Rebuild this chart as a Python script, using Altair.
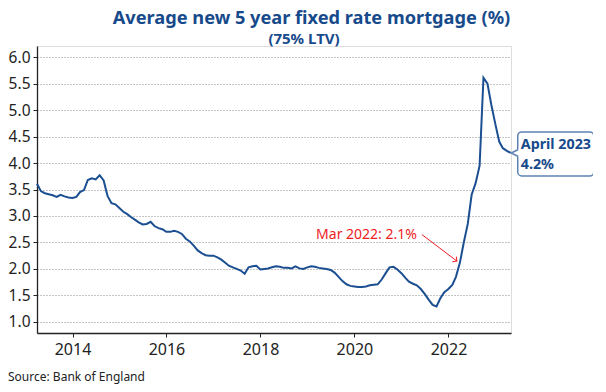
import altair as alt
import pandas as pd

# ---- data (monthly, end of month) ----
START = "2013-03-31"
END = "2023-04-30"
rate = [
    # 2013 Mar-Dec
    3.61, 3.47, 3.43, 3.41, 3.39, 3.36, 3.40, 3.37, 3.35, 3.34,
    # 2014
    3.36, 3.45, 3.49, 3.68, 3.71, 3.69, 3.77, 3.67, 3.38, 3.24, 3.22, 3.15,
    # 2015
    3.08, 3.04, 2.98, 2.93, 2.88, 2.84, 2.85, 2.89, 2.81, 2.77, 2.75, 2.70,
    # 2016
    2.70, 2.72, 2.70, 2.66, 2.57, 2.52, 2.44, 2.35, 2.30, 2.26, 2.25, 2.25,
    # 2017
    2.22, 2.18, 2.12, 2.06, 2.03, 2.00, 1.97, 1.91, 2.03, 2.05, 2.06, 1.99,
    # 2018
    2.00, 2.01, 2.03, 2.05, 2.04, 2.02, 2.02, 2.01, 2.05, 2.01, 2.00, 2.03,
    # 2019
    2.05, 2.04, 2.02, 2.01, 2.00, 1.98, 1.93, 1.85, 1.77, 1.71, 1.68, 1.67,
    # 2020
    1.66, 1.66, 1.67, 1.69, 1.70, 1.71, 1.80, 1.92, 2.03, 2.04, 1.99, 1.92,
    # 2021
    1.83, 1.76, 1.72, 1.69, 1.62, 1.53, 1.42, 1.32, 1.29, 1.45, 1.56, 1.62,
    # 2022
    1.70, 1.85, 2.12, 2.50, 2.85, 3.40, 3.62, 3.95, 5.61, 5.50, 5.10, 4.74,
    # 2023 Jan-Apr
    4.40, 4.28, 4.23, 4.19,
]
dates = pd.date_range(START, END, freq="ME")
df = pd.DataFrame({"date": dates.strftime("%Y-%m-%d"), "rate": rate})

year_ticks = [2014, 2016, 2018, 2020, 2022]
y_ticks = [1.0, 1.5, 2.0, 2.5, 3.0, 3.5, 4.0, 4.5, 5.0, 5.5, 6.0]

ann_date = ["2022-03-31"]
ann_rate = [2.12]
ann_text = ["Mar 2022: 2.1%"]
call_date = ["2023-04-30"]
call_rate = [4.19]
call_text = ["April 2023\n4.2%"]

TITLE = "Average new 5 year fixed rate mortgage (%)"
SUBTITLE = "(75% LTV)"
SOURCE = "Source: Bank of England"

BLUE = "#1b4f91"
TBLUE = "#174a8b"
RED = "#ee1c25"
FONT = "Noto Sans"

ann = pd.DataFrame({"date": ann_date, "rate": ann_rate, "text": ann_text})
call = pd.DataFrame({"date": call_date, "rate": call_rate, "text": call_text})

xscale = alt.Scale(type="utc", domain=[alt.DateTime(year=2013, month=3, date=31, utc=True),
                                       alt.DateTime(year=2023, month=5, date=2, utc=True)])
yscale = alt.Scale(domain=[0.79, 6.21], nice=False, zero=False)

X = alt.X("date:T", scale=xscale, title=None,
          axis=alt.Axis(values=[alt.DateTime(year=y, month=1, date=1, utc=True) for y in year_ticks],
                        format="%Y", formatType="utc", grid=False,
                        labelFont=FONT, labelFontSize=16, labelColor="#222",
                        domainColor="#222", domainWidth=1.3, tickColor="#222",
                        tickSize=4, labelPadding=4, labelFlush=False,
                        labelOverlap=False))
Y = alt.Y("rate:Q", scale=yscale, title=None,
          axis=alt.Axis(values=y_ticks, format=".1f", grid=True, gridDash=[1, 2],
                        gridColor="#8a8a8a", gridWidth=1,
                        labelFont=FONT, labelFontSize=15.5, labelColor="#222",
                        domainColor="#222", domainWidth=1.3, tickColor="#222",
                        tickSize=4, labelPadding=3, labelOverlap=False,
                        labelFlush=False, tickCount=11))
X2 = alt.X2("date:T")
Y2 = alt.Y2("rate:Q")

line = alt.Chart(df).mark_line(color=BLUE, strokeWidth=2).encode(x=X, y=Y)

arrow = alt.Chart(ann).mark_rule(color=RED, strokeWidth=1, xOffset=-38, x2Offset=-3,
                                 yOffset=-28, y2Offset=-1.5).encode(
    x=X, x2=X2, y=Y, y2=Y2)
head = alt.Chart(ann).mark_point(shape="M -1 1 L 0 0 L 1 1", filled=False, color=RED,
                                 strokeWidth=1, size=40, angle=127, xOffset=-3,
                                 yOffset=-1.5, opacity=1).encode(x=X, y=Y)
ann_label = alt.Chart(ann).mark_text(align="right", baseline="middle", dx=-43, dy=-28,
                                     color=RED, font=FONT, fontSize=14).encode(
    x=X, y=Y, text="text:N")

box = alt.Chart(call).mark_rect(cornerRadius=4, fill="white", stroke="#5f82b4",
                                strokeWidth=1.5, xOffset=7, x2Offset=83,
                                yOffset=-21, y2Offset=23).encode(
    x=X, x2=X2, y=Y, y2=Y2)
gap = alt.Chart(call).mark_rule(color="white", strokeWidth=3, xOffset=7, x2Offset=7,
                                yOffset=-4, y2Offset=4).encode(
    x=X, x2=X2, y=Y, y2=Y2)
notch = alt.Chart(call).mark_point(shape="M 1 -1 L -1 0 L 1 1", filled=False,
                                   color="#5f82b4", strokeWidth=1.5, size=49,
                                   xOffset=4, opacity=1).encode(x=X, y=Y)
call_label = alt.Chart(call).mark_text(align="left", baseline="middle", dx=10, dy=-7.5,
                                       lineBreak="\n", lineHeight=20, color=TBLUE,
                                       font=FONT, fontSize=14.3, fontWeight="bold").encode(
    x=X, y=Y, text="text:N")

title = alt.Chart(pd.DataFrame({"t": [TITLE]})).mark_text(
    align="center", baseline="alphabetic", font=FONT, fontSize=18.2, fontWeight="bold",
    color=TBLUE).encode(x=alt.value(274.5), y=alt.value(-22.5), text="t:N")
subtitle = alt.Chart(pd.DataFrame({"t": [SUBTITLE]})).mark_text(
    align="center", baseline="alphabetic", font=FONT, fontSize=15, fontWeight="bold",
    color=TBLUE).encode(x=alt.value(267), y=alt.value(-2.5), text="t:N")
source = alt.Chart(pd.DataFrame({"t": [SOURCE]})).mark_text(
    align="left", baseline="middle", font=FONT, fontSize=12, color="#222").encode(
    x=alt.value(-29), y=alt.value(331), text="t:N")

chart = alt.layer(line, arrow, head, ann_label, box, gap, notch, call_label,
                  title, subtitle, source).properties(
    width=474, height=287,
    autosize=alt.AutoSizeParams(type="none"),
    padding={"left": 29, "top": 38, "right": 82, "bottom": 55},
).configure_view(stroke=None).configure(background="white")

chart.save("out.html", embed_options={"renderer": "svg", "actions": False})
